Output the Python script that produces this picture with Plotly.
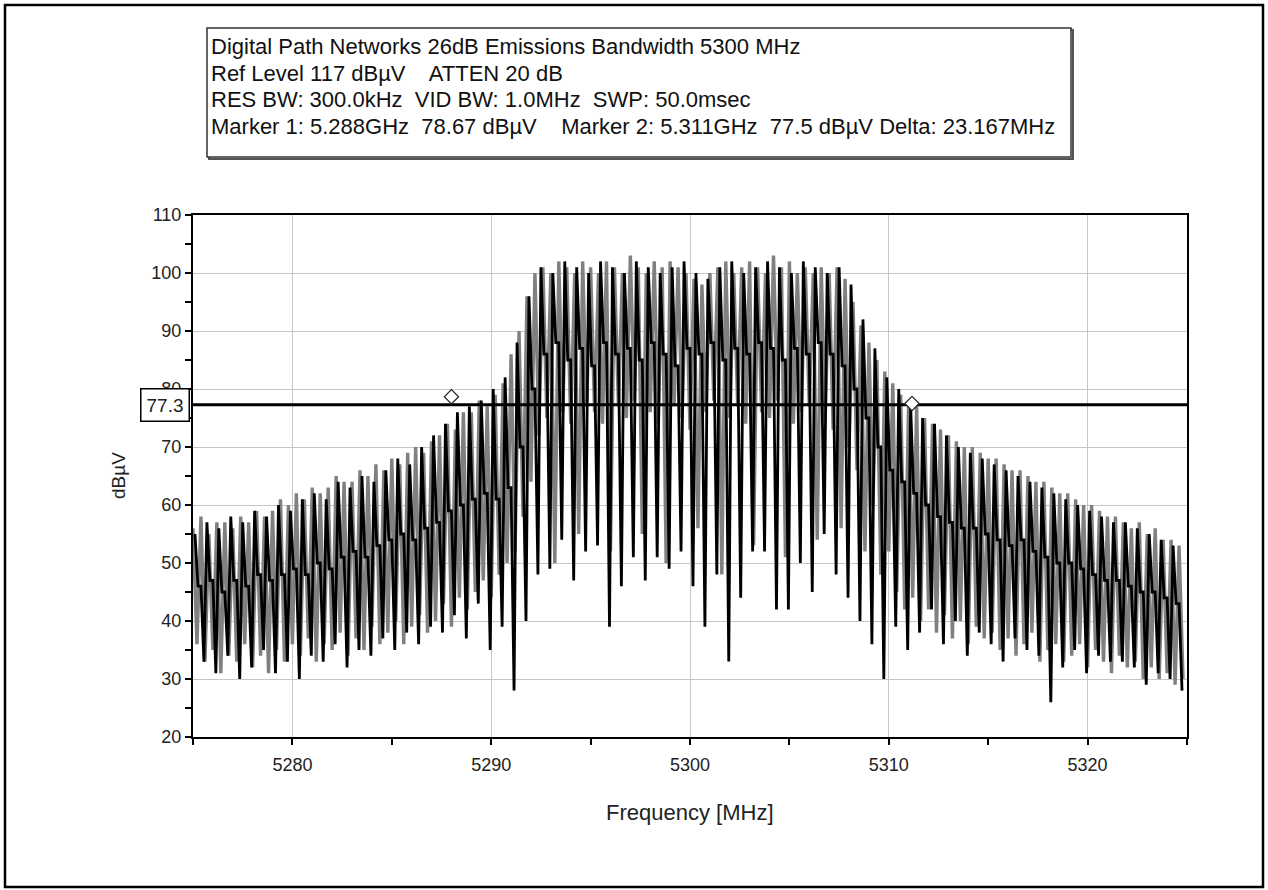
import plotly.graph_objects as go

# ---------------- data ----------------
freq_start_mhz = 5275.0
freq_stop_mhz = 5325.0

# gray sweep: alternating peak / trough samples
gray_sweep_start = 5275.0
gray_sweep_step = 0.2
gray_peaks = [
    56, 58, 55, 57, 57, 56, 58, 57, 59, 58,
    59, 61, 60, 62, 61, 63, 62, 63, 65, 64,
    64, 66, 65, 67, 66, 68, 67, 69, 70, 69,
    71, 72, 74, 73, 76, 76, 78, 77, 79, 81,
    86, 90, 96, 100, 101, 100, 102, 101, 100, 102,
    101, 100, 102, 101, 100, 103, 101, 100, 102, 101,
    102, 101, 100, 99, 98, 100, 101, 102, 100, 101,
    102, 101, 100, 103, 101, 102, 100, 101, 100, 101,
    100, 101, 99, 95, 91, 88, 85, 83, 81, 79,
    78, 77, 75, 74, 73, 72, 71, 70, 70, 69,
    68, 68, 67, 66, 66, 65, 64, 64, 63, 62,
    62, 61, 60, 60, 59, 58, 58, 57, 56, 57,
    55, 56, 54, 54, 53,
]
gray_troughs = [
    36, 33, 35, 31, 34, 33, 36, 32, 34, 31,
    35, 33, 36, 34, 37, 33, 36, 35, 38, 34,
    37, 35, 39, 36, 38, 40, 36, 39, 41, 38,
    40, 43, 39, 44, 42, 45, 47, 44, 48, 50,
    52, 58, 64, 72, 75, 50, 76, 74, 55, 77,
    76, 74, 52, 77, 75, 78, 55, 76, 74, 50,
    77, 75, 73, 56, 76, 78, 48, 75, 77, 74,
    53, 76, 75, 78, 51, 74, 76, 77, 54, 75,
    73, 56, 70, 66, 52, 60, 48, 52, 45, 42,
    44, 40, 42, 38, 41, 37, 40, 36, 39, 37,
    38, 35, 37, 34, 36, 38, 33, 35, 36, 33,
    34, 36, 32, 35, 33, 31, 34, 32, 33, 30,
    32, 30, 31, 29, 30,
]

# black sweep: peak, mid level (held), trough per comb tooth
black_sweep_start = 5275.1
black_sweep_step = 0.15
black_peaks = [
    55, 57, 56, 58, 57, 59, 58, 60, 59, 61,
    62, 61, 64, 63, 65, 64, 66, 68, 67, 70,
    72, 74, 76, 77, 78, 80, 82, 88, 96, 101,
    100, 102, 101, 100, 102, 101, 100, 102, 101, 100,
    101, 102, 100, 99, 101, 102, 100, 101, 102, 101,
    100, 102, 101, 100, 101, 98, 92, 87, 82, 80,
    77, 75, 74, 72, 70, 69, 68, 67, 66, 65,
    64, 63, 62, 61, 60, 59, 58, 57, 57, 56,
    55, 54, 53,
]
black_mids = [
    46, 47, 45, 47, 46, 48, 47, 48, 49, 48,
    50, 49, 51, 52, 51, 53, 54, 55, 54, 56,
    57, 59, 60, 61, 62, 61, 63, 70, 80, 86,
    88, 85, 87, 84, 88, 86, 87, 85, 88, 86,
    84, 87, 86, 88, 85, 87, 86, 88, 87, 85,
    87, 86, 88, 86, 84, 80, 75, 70, 66, 64,
    62, 60, 58, 57, 56, 56, 55, 54, 53, 54,
    52, 51, 50, 50, 49, 48, 47, 47, 46, 45,
    45, 44, 43,
]
black_troughs = [
    33, 31, 34, 30, 32, 35, 31, 33, 30, 34,
    33, 36, 32, 35, 34, 37, 35, 38, 36, 39,
    38, 41, 37, 43, 35, 39, 28, 40, 48, 49,
    54, 47, 52, 53, 39, 46, 51, 47, 51, 49,
    52, 46, 39, 48, 33, 44, 52, 52, 42, 42,
    50, 45, 55, 48, 44, 40, 36, 30, 39, 35,
    38, 42, 36, 40, 34, 38, 36, 33, 37, 35,
    34, 26, 32, 35, 31, 34, 33, 33, 32, 29,
    31, 30, 28,
]

threshold_dbuv = 77.3
marker_freqs = [5288.0, 5311.167]
marker_levels = [78.67, 77.5]

header_lines = [
    "Digital Path Networks 26dB Emissions Bandwidth 5300 MHz",
    "Ref Level 117 dBµV    ATTEN 20 dB",
    "RES BW: 300.0kHz  VID BW: 1.0MHz  SWP: 50.0msec",
    "Marker 1: 5.288GHz  78.67 dBµV    Marker 2: 5.311GHz  77.5 dBµV Delta: 23.167MHz",
]
x_tick_vals = [5280, 5290, 5300, 5310, 5320]
y_tick_vals = [20, 30, 40, 50, 60, 70, 80, 90, 100, 110]
x_title = "Frequency [MHz]"
y_title = "dBµV"

# ---------------- build sequences from the typed samples ----------------
gray_y = []
for p, t in zip(gray_peaks, gray_troughs):
    gray_y += [p, t]
black_y = []
for p, m, t in zip(black_peaks, black_mids, black_troughs):
    black_y += [p, m, m, t]

# ---------------- layout helpers ----------------
W, H = 1268, 890
L, R, T, B = 193, 81, 215, 153
PW, PH = W - L - R, H - T - B


def px(x):
    return (x - L) / PW


def py(y):
    return (H - B - y) / PH


FONT = "Arial, 'Liberation Sans', sans-serif"

fig = go.Figure()
fig.add_trace(go.Scatter(x0=gray_sweep_start, dx=gray_sweep_step, y=gray_y,
                         mode="lines", line=dict(color="#808080", width=3.4),
                         hoverinfo="skip", showlegend=False))
fig.add_trace(go.Scatter(x0=black_sweep_start, dx=black_sweep_step, y=black_y,
                         mode="lines", line=dict(color="#000000", width=2.8),
                         hoverinfo="skip", showlegend=False))
fig.add_trace(go.Scatter(x=[freq_start_mhz, freq_stop_mhz],
                         y=[threshold_dbuv, threshold_dbuv],
                         mode="lines", line=dict(color="#000000", width=3),
                         hoverinfo="skip", showlegend=False))
fig.add_trace(go.Scatter(x=marker_freqs, y=marker_levels, mode="markers",
                         marker=dict(symbol="diamond", size=11, color="white",
                                     line=dict(color="#222222", width=1.2)),
                         hoverinfo="skip", showlegend=False))

axis_common = dict(showline=True, linecolor="black", linewidth=2, mirror=True,
                   showgrid=True, gridcolor="#c6c6c6", gridwidth=1,
                   zeroline=False, ticks="outside", ticklen=6, tickwidth=2,
                   tickcolor="black",
                   tickfont=dict(family=FONT, size=18, color="#222222"))

fig.update_layout(
    width=W, height=H,
    margin=dict(l=L, r=R, t=T, b=B, pad=0),
    paper_bgcolor="white", plot_bgcolor="white",
    showlegend=False,
    xaxis=dict(range=[freq_start_mhz, freq_stop_mhz], tickvals=x_tick_vals,
               ticklabelstandoff=4,
               minor=dict(dtick=5, tick0=5275, ticks="outside", ticklen=6,
                          tickwidth=2, tickcolor="black", showgrid=False),
               **axis_common),
    yaxis=dict(range=[20, 110], tickvals=y_tick_vals,
               minor=dict(dtick=5, tick0=20, ticks="outside", ticklen=6,
                          tickwidth=2, tickcolor="black", showgrid=False),
               **axis_common),
    xaxis2=dict(overlaying="x", range=[freq_start_mhz, freq_stop_mhz], anchor="y",
                side="bottom", tick0=5275, dtick=5, ticks="inside", ticklen=5,
                tickwidth=2, tickcolor="black", showticklabels=False,
                showgrid=False, showline=False, zeroline=False),
    yaxis2=dict(overlaying="y", range=[20, 110], anchor="x", side="left",
                tick0=20, dtick=5, ticks="inside", ticklen=5, tickwidth=2,
                tickcolor="black", showticklabels=False, showgrid=False,
                showline=False, zeroline=False),
)

shapes = [
    # outer frame
    dict(type="rect", xref="paper", yref="paper", x0=px(5), x1=px(1263),
         y0=py(887), y1=py(5), line=dict(color="black", width=2.5)),
    # header box shadow + box
    dict(type="rect", xref="paper", yref="paper", x0=px(209), x1=px(1073),
         y0=py(159), y1=py(30), line=dict(color="#555555", width=2)),
    dict(type="rect", xref="paper", yref="paper", x0=px(207), x1=px(1071),
         y0=py(157), y1=py(28), fillcolor="white",
         line=dict(color="#333333", width=1.5)),
]
fig.update_layout(shapes=shapes)

annotations = []
line_y = [47, 74, 100, 127]
for txt, yy in zip(header_lines, line_y):
    annotations.append(dict(xref="paper", yref="paper", x=px(209), y=py(yy),
                            xanchor="left", yanchor="middle", text=txt,
                            showarrow=False,
                            font=dict(family=FONT, size=22, color="#111111")))
annotations.append(dict(xref="paper", yref="y", x=px(190), y=threshold_dbuv,
                        xanchor="right", yanchor="middle", text="77.3",
                        showarrow=False, bgcolor="white", bordercolor="black",
                        borderwidth=1.5, borderpad=5,
                        font=dict(family=FONT, size=19, color="#222222")))
annotations.append(dict(xref="paper", yref="paper", x=px(118), y=0.5,
                        xanchor="center", yanchor="middle", text=y_title,
                        textangle=-90, showarrow=False,
                        font=dict(family=FONT, size=19, color="#222222")))
annotations.append(dict(xref="paper", yref="paper", x=px(690), y=py(812),
                        xanchor="center", yanchor="middle", text=x_title,
                        showarrow=False,
                        font=dict(family=FONT, size=22, color="#222222")))
fig.update_layout(annotations=annotations)

fig.write_html("out.html", config={"displayModeBar": False},
               post_script="document.body.style.margin='0px';")
